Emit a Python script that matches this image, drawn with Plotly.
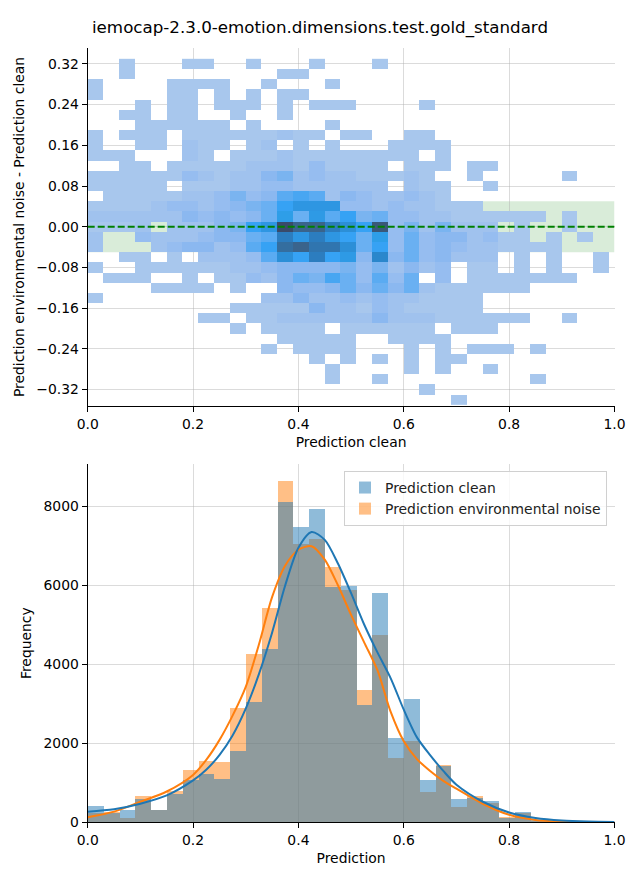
import plotly.graph_objects as go

# ---------------- data ----------------
title_text = "iemocap-2.3.0-emotion.dimensions.test.gold_standard"

# 2-D histogram (top panel): bin centres
clean_centers = [0.015, 0.045, 0.075, 0.105, 0.135, 0.165, 0.195, 0.225, 0.255, 0.285,
                 0.315, 0.345, 0.375, 0.405, 0.435, 0.465, 0.495, 0.525, 0.555, 0.585,
                 0.615, 0.645, 0.675, 0.705, 0.735, 0.765, 0.795, 0.825, 0.855, 0.885,
                 0.915, 0.945, 0.975, 1.005]
diff_centers = [0.32, 0.30, 0.28, 0.26, 0.24, 0.22, 0.20, 0.18, 0.16, 0.14, 0.12, 0.10,
                0.08, 0.06, 0.04, 0.02, 0.00, -0.02, -0.04, -0.06, -0.08, -0.10, -0.12,
                -0.14, -0.16, -0.18, -0.20, -0.22, -0.24, -0.26, -0.28, -0.30, -0.32, -0.34]

# counts per cell (rows follow diff_centers, columns follow clean_centers), estimated
counts = [
    [0,0,1,0,0,0,1,1,0,0,1,0,0,0,1,0,0,0,1,0,0,0,0,0,0,0,0,0,0,0,0,0,0,0],
    [0,0,1,0,0,0,0,0,0,0,0,0,1,1,0,0,0,0,0,0,0,0,0,0,0,0,0,0,0,0,0,0,0,0],
    [1,0,0,0,0,1,1,1,1,0,0,1,0,0,0,1,0,0,0,0,0,0,0,0,0,0,0,0,0,0,0,0,0,0],
    [1,0,0,0,0,1,1,0,1,0,1,0,1,1,0,0,0,0,0,0,0,0,0,0,0,0,0,0,0,0,0,0,0,0],
    [0,0,0,1,0,1,1,0,1,1,1,0,1,0,1,1,1,0,0,0,0,1,0,0,0,0,0,0,0,0,0,0,0,0],
    [0,0,1,1,0,1,1,0,0,1,0,0,1,0,0,0,0,0,0,0,0,0,0,0,0,0,0,0,0,0,0,0,0,0],
    [0,0,0,1,1,1,1,1,1,0,1,0,0,0,0,1,0,0,0,0,0,0,0,0,0,0,0,0,0,0,0,0,0,0],
    [1,0,1,1,1,0,1,1,1,1,1,1,2,1,1,0,1,1,0,0,1,1,0,0,0,0,0,0,0,0,0,0,0,0],
    [1,0,0,1,1,0,2,1,1,0,1,2,0,1,0,1,0,0,0,1,1,1,1,0,0,0,0,0,0,0,0,0,0,0],
    [1,1,1,0,0,0,2,1,0,1,1,1,2,1,1,1,1,1,1,1,1,0,1,0,0,0,0,0,0,0,0,0,0,0],
    [0,0,1,1,0,1,1,1,1,1,2,2,2,1,3,1,1,1,1,0,1,1,1,0,1,1,0,0,0,0,0,0,0,0],
    [1,1,1,1,1,1,3,2,1,2,2,4,5,2,3,2,2,1,1,1,2,1,0,0,1,0,0,0,0,0,1,0,0,0],
    [1,1,1,1,1,0,1,1,1,2,2,3,3,2,2,2,2,2,2,0,2,1,1,0,0,1,0,0,0,0,0,0,0,0],
    [0,1,1,1,1,1,2,2,3,5,3,4,7,8,7,2,4,3,2,2,3,2,1,0,0,0,0,0,0,0,0,0,0,0],
    [1,1,1,1,2,3,3,2,3,4,5,6,9,12,12,12,3,3,2,3,2,2,1,1,1,0,0,0,0,0,0,0,0,0],
    [2,2,2,2,2,2,4,3,4,3,4,6,10,6,11,7,9,5,6,3,3,2,2,1,1,1,1,1,1,0,1,0,0,0],
    [1,1,1,2,0,2,2,2,4,5,9,12,20,18,18,15,13,9,19,3,5,2,5,2,2,2,0,1,0,0,1,0,0,0],
    [2,0,0,3,2,2,2,3,4,4,6,7,15,12,15,12,9,6,10,3,6,3,4,4,2,3,1,1,0,1,0,1,0,0],
    [2,0,0,0,2,3,4,4,2,3,7,9,17,18,16,16,13,6,9,3,6,3,4,3,2,2,1,1,1,1,0,0,0,0],
    [0,0,1,1,0,1,0,2,2,2,3,7,13,9,15,9,11,4,14,4,6,3,4,2,2,2,0,1,0,1,0,0,1,0],
    [1,0,0,1,1,1,1,1,1,2,2,3,4,4,4,4,5,3,5,2,4,2,3,0,1,1,0,1,0,1,0,0,1,0],
    [0,1,1,1,0,0,1,0,1,1,3,2,4,6,5,8,6,3,7,3,6,0,3,0,1,1,1,1,1,1,1,0,0,0],
    [0,0,0,0,1,1,1,1,0,1,0,0,4,3,3,4,6,4,6,4,6,2,1,1,1,1,1,1,0,0,0,0,0,0],
    [1,0,0,0,0,0,0,0,0,0,0,2,2,4,2,2,3,2,3,2,2,1,1,1,1,0,0,0,0,0,0,0,0,0],
    [0,0,0,0,0,0,0,0,0,1,1,1,1,1,4,2,2,1,3,2,1,1,1,1,1,0,0,0,0,0,0,0,0,0],
    [0,0,0,0,0,0,0,1,1,0,1,1,2,2,2,2,2,2,4,2,2,2,1,1,1,1,1,1,0,0,1,0,0,0],
    [0,0,0,0,0,0,0,0,0,1,0,1,1,1,1,0,1,1,1,1,1,1,0,1,1,1,0,0,0,0,0,0,0,0],
    [0,0,0,0,0,0,0,0,0,0,0,0,1,1,1,1,1,0,0,1,1,1,1,0,0,0,0,0,0,0,0,0,0,0],
    [0,0,0,0,0,0,0,0,0,0,0,1,0,1,1,1,1,0,0,0,1,0,1,0,1,1,1,0,1,0,0,0,0,0],
    [0,0,0,0,0,0,0,0,0,0,0,0,0,0,1,0,1,0,1,0,1,0,1,1,0,0,0,0,0,0,0,0,0,0],
    [0,0,0,0,0,0,0,0,0,0,0,0,0,0,0,1,0,0,0,0,1,0,1,0,0,1,0,0,0,0,0,0,0,0],
    [0,0,0,0,0,0,0,0,0,0,0,0,0,0,0,1,0,0,1,0,0,0,0,0,0,0,0,0,1,0,0,0,0,0],
    [0,0,0,0,0,0,0,0,0,0,0,0,0,0,0,0,0,0,0,0,0,1,0,0,0,0,0,0,0,0,0,0,0,0],
    [0,0,0,0,0,0,0,0,0,0,0,0,0,0,0,0,0,0,0,0,0,0,0,1,0,0,0,0,0,0,0,0,0,0],
]

# 1-D histograms (bottom panel)
pred_centers = clean_centers
clean_freq = [410, 230, 320, 590, 300, 720, 1070, 1215, 1100, 1810, 3035, 4390, 8110, 7480,
              7930, 5960, 5990, 2980, 5800, 2140, 3120, 1080, 1420, 590, 620, 540, 100, 250,
              60, 40, 25, 15, 10, 5]
noise_freq = [230, 270, 120, 660, 310, 790, 1320, 1550, 1530, 2900, 4260, 5430, 8640, 7050,
              7170, 6470, 5870, 3360, 4740, 1630, 2070, 770, 1450, 380, 660, 480, 130, 230,
              40, 30, 20, 10, 8, 5]

# KDE curves
kde_x = [0.0, 0.05, 0.1, 0.15, 0.2, 0.225, 0.25, 0.275, 0.3, 0.325, 0.35, 0.375, 0.4, 0.425,
         0.45, 0.475, 0.5, 0.525, 0.55, 0.575, 0.6, 0.625, 0.65, 0.675, 0.7, 0.75, 0.8, 0.85,
         0.9, 0.95, 1.0]
kde_clean = [270, 330, 470, 680, 1060, 1330, 1700, 2200, 2880, 3750, 4800, 6000, 6950, 7350,
             7150, 6550, 5800, 5000, 4300, 3650, 2850, 2150, 1700, 1300, 950, 520, 250, 110,
             45, 20, 10]
kde_noise = [130, 270, 520, 780, 1200, 1580, 2080, 2700, 3430, 4500, 5700, 6500, 6900, 6990,
             6650, 6000, 5250, 4550, 3850, 2800, 2050, 1600, 1300, 1050, 850, 470, 190, 60,
             20, 8, 3]

# ---------------- figure ----------------
FONT = "DejaVu Sans"
W, H = 640, 880
xdom = [87.7 / W, 614.5 / W]
ydom_top = [1 - 406 / H, 1 - 48 / H]
ydom_bot = [1 - 822.3 / H, 1 - 464 / H]

colorscale = [
    [0.000, "rgb(168,199,237)"],
    [0.053, "rgb(160,194,238)"],
    [0.105, "rgb(150,189,240)"],
    [0.158, "rgb(139,184,240)"],
    [0.210, "rgb(122,180,240)"],
    [0.263, "rgb(106,176,242)"],
    [0.316, "rgb(90,171,242)"],
    [0.368, "rgb(72,166,242)"],
    [0.420, "rgb(54,162,244)"],
    [0.470, "rgb(46,158,232)"],
    [0.580, "rgb(46,150,226)"],
    [0.680, "rgb(42,136,205)"],
    [0.740, "rgb(44,124,190)"],
    [0.840, "rgb(52,110,160)"],
    [0.895, "rgb(58,100,140)"],
    [0.947, "rgb(58,88,120)"],
    [1.000, "rgb(58,74,106)"],
]

z = [[c if c > 0 else None for c in row] for row in counts]

fig = go.Figure()
fig.add_trace(go.Heatmap(
    x=clean_centers, y=diff_centers, z=z, colorscale=colorscale,
    zmin=1, zmax=20, showscale=False, xaxis="x", yaxis="y",
    hoverongaps=False, showlegend=False,
))

fig.add_trace(go.Bar(
    x=pred_centers, y=noise_freq, width=0.03, name="Prediction environmental noise",
    marker=dict(color="rgba(255,127,14,0.5)", line=dict(width=0)),
    xaxis="x2", yaxis="y2", legendrank=2,
))
fig.add_trace(go.Bar(
    x=pred_centers, y=clean_freq, width=0.03, name="Prediction clean",
    marker=dict(color="rgba(31,119,180,0.5)", line=dict(width=0)),
    xaxis="x2", yaxis="y2", legendrank=1,
))
fig.add_trace(go.Scatter(
    x=kde_x, y=kde_noise, mode="lines",
    line=dict(color="#ff7f0e", width=2, shape="spline", smoothing=0.8),
    xaxis="x2", yaxis="y2", showlegend=False,
))
fig.add_trace(go.Scatter(
    x=kde_x, y=kde_clean, mode="lines",
    line=dict(color="#1f77b4", width=2, shape="spline", smoothing=0.8),
    xaxis="x2", yaxis="y2", showlegend=False,
))

grid = "rgba(176,176,176,0.45)"
tickfont = dict(family=FONT, size=13.9, color="black")
axis_common = dict(
    showline=True, linecolor="black", linewidth=1.1, ticks="outside", ticklen=5,
    tickwidth=1.1, tickcolor="black", showgrid=True, gridcolor=grid, gridwidth=1,
    zeroline=False, tickfont=tickfont, layer="above traces", automargin=False,
)

fig.update_layout(
    width=W, height=H, margin=dict(l=0, r=0, t=0, b=0, autoexpand=False),
    paper_bgcolor="white", plot_bgcolor="white",
    barmode="overlay", bargap=0,
    font=dict(family=FONT, color="black"),
    title=dict(text=title_text, x=0.5, xanchor="center", y=1 - 27 / H, yanchor="middle",
               font=dict(family=FONT, size=16.7, color="black")),
    xaxis=dict(domain=xdom, range=[0, 1], anchor="y", tickvals=[0, 0.2, 0.4, 0.6, 0.8, 1.0],
               tickformat=".1f",
               title=dict(text="Prediction clean", font=dict(family=FONT, size=13.9), standoff=6),
               **axis_common),
    yaxis=dict(domain=ydom_top, range=[-0.3525, 0.3513], anchor="x",
               tickvals=[-0.32, -0.24, -0.16, -0.08, 0.0, 0.08, 0.16, 0.24, 0.32],
               tickformat=".2f",
               title=dict(text="Prediction environmental noise - Prediction clean",
                          font=dict(family=FONT, size=13.9), standoff=8),
               **axis_common),
    xaxis2=dict(domain=xdom, range=[0, 1], anchor="y2", tickvals=[0, 0.2, 0.4, 0.6, 0.8, 1.0],
                tickformat=".1f",
                title=dict(text="Prediction", font=dict(family=FONT, size=13.9), standoff=6),
                **axis_common),
    yaxis2=dict(domain=ydom_bot, range=[0, 9070], anchor="x2",
                tickvals=[0, 2000, 4000, 6000, 8000], tickformat="d",
                title=dict(text="Frequency", font=dict(family=FONT, size=13.9), standoff=8),
                **axis_common),
    legend=dict(x=607 / W, xanchor="right", y=1 - 471 / H, yanchor="top",
                bgcolor="rgba(255,255,255,0.8)", bordercolor="#d0d0d0", borderwidth=1,
                font=dict(family=FONT, size=13.9, color="#222222"), traceorder="normal",
                tracegroupgap=0),
    shapes=[
        dict(type="rect", xref="x", yref="y", x0=0, x1=1, y0=-0.05, y1=0.05,
             fillcolor="rgba(0,128,0,0.15)", line=dict(width=0), layer="below"),
        dict(type="line", xref="x", yref="y", x0=0, x1=1, y0=0, y1=0,
             line=dict(color="#008000", width=2, dash="7px,3px"), layer="above"),
    ],
)

fig.write_html("out.html", config={"displayModeBar": False},
               post_script="document.body.style.margin='0';")
